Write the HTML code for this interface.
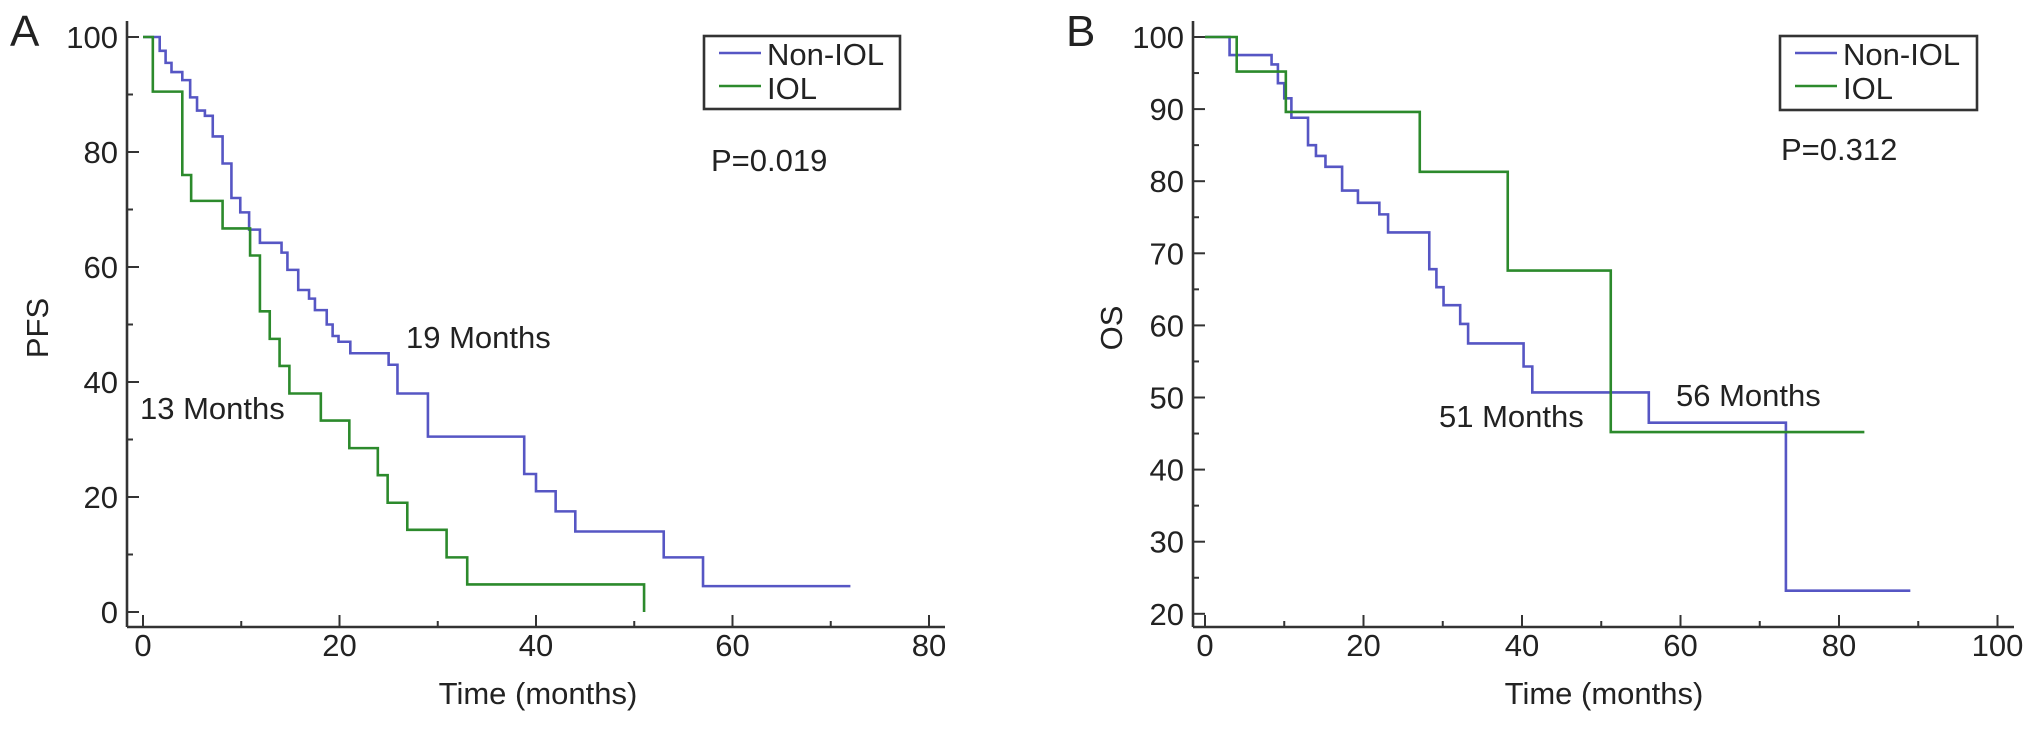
<!DOCTYPE html>
<html><head><meta charset="utf-8"><style>
html,body{margin:0;padding:0;background:#fff;}
svg text{font-family:"Liberation Sans",Arial,sans-serif;fill:#222;}
</style></head><body>
<svg id="chart" width="2032" height="724" viewBox="0 0 2032 724" xmlns="http://www.w3.org/2000/svg">
<g id="pa"></g>
<g id="pb"></g>
</svg>
<script>
// Panel A (PFS)
const aNonTimes = [1.7,2.3,2.9,4.0,4.8,5.5,6.3,7.1,8.1,9.0,9.9,10.8,11.9,14.1,14.7,15.8,16.9,17.5,18.7,19.3,19.9,21.1,25,25.9,29,38.8,40,42,44,53,57];
const aNonVals  = [97.6,95.5,93.9,92.5,89.5,87.2,86.3,82.7,78,72,69.5,66.5,64.2,62.5,59.5,56,54.5,52.5,50,48,47,45,43,38,30.5,24,21,17.5,14,9.5,4.5];
const aNonEnd = 72;
const aIolTimes = [1.0,4.0,4.9,8.1,10.9,11.9,12.9,13.9,14.9,18.1,21,23.9,24.9,26.9,30.9,33,51];
const aIolVals  = [90.5,76,71.5,66.7,62,52.3,47.5,42.8,38,33.3,28.5,23.8,19,14.3,9.5,4.8,0];
const aIolEnd = 51;
const aXTicks = [0,20,40,60,80];
const aYTicks = [0,20,40,60,80,100];
// Panel B (OS)
const bNonTimes = [3.1,8.4,9.2,10,10.9,13,14,15.2,17.3,19.3,22,23.1,28.3,29.2,30.1,32.2,33.2,40.2,41.3,56,73.3];
const bNonVals  = [97.5,96.2,93.6,91.5,88.8,85,83.5,82,78.7,77,75.4,72.9,67.8,65.3,62.8,60.2,57.5,54.3,50.7,46.5,23.2];
const bNonEnd = 89;
const bIolTimes = [4.0,10.2,27.1,38.2,51.2];
const bIolVals  = [95.2,89.6,81.3,67.6,45.2];
const bIolEnd = 83.2;
const bXTicks = [0,20,40,60,80,100];
const bYTicks = [20,30,40,50,60,70,80,90,100];

const NS='http://www.w3.org/2000/svg';
function mk(parent, tag, attrs, text){
  const e=document.createElementNS(NS,tag);
  for(const k in attrs) e.setAttribute(k,attrs[k]);
  if(text!==undefined) e.textContent=text;
  parent.appendChild(e); return e;
}
const BLUE='#5656c4', GREEN='#2c8a2c', AX='#333';

function panel(g, cfg){
  const {xs, ys, axX, axTop, axY, axRight, xTicks, yTicks, xMinorStep, yMinorStep, yMin, yMax, xMax} = cfg;
  let a=mk(g,'line',{x1:axX,y1:axTop,x2:axX,y2:axY,stroke:AX,'stroke-width':2.6});
   
  a=mk(g,'line',{x1:axX,y1:axY,x2:axRight,y2:axY,stroke:AX,'stroke-width':2.6});
   
  for(let v=yMin; v<=yMax; v+=yMinorStep){
    const major=yTicks.includes(v);
    const t=mk(g,'line',{x1:axX,y1:ys(v),x2:axX+(major?12:6),y2:ys(v),stroke:AX,'stroke-width':2});
     
  }
  yTicks.forEach(v=>{
    const t=mk(g,'text',{x:axX-9,y:ys(v)+11,'font-size':31,'text-anchor':'end'},String(v));
     
  });
  for(let v=0; v<=xMax; v+=xMinorStep){
    const major=xTicks.includes(v);
    const t=mk(g,'line',{x1:xs(v),y1:axY,x2:xs(v),y2:axY-(major?12:6),stroke:AX,'stroke-width':2});
     
  }
  xTicks.forEach(v=>{
    const t=mk(g,'text',{x:xs(v),y:656,'font-size':31,'text-anchor':'middle'},String(v));
     
  });
}
function steps(g, xs, ys, times, vals, end, color, name){
  let d='M'+xs(0)+','+ys(100); let cur=100;
  times.forEach((t,i)=>{ d+=' L'+xs(t)+','+ys(cur)+' L'+xs(t)+','+ys(vals[i]); cur=vals[i]; });
  d+=' L'+xs(end)+','+ys(cur);
  const p=mk(g,'path',{d:d,fill:'none',stroke:color,'stroke-width':2.6});
   
}
function txt(g,x,y,s,str,name,extra){
  const t=mk(g,'text',Object.assign({x:x,y:y,'font-size':s},extra||{}),str);
   
  return t;
}
function legend(g,x,y,w,h){
  const r=mk(g,'rect',{x:x,y:y,width:w,height:h,fill:'#fff',stroke:AX,'stroke-width':2.6});
   
  let l=mk(g,'line',{x1:x+15,y1:y+17,x2:x+57,y2:y+17,stroke:BLUE,'stroke-width':2.6});
   
  l=mk(g,'line',{x1:x+15,y1:y+50,x2:x+57,y2:y+50,stroke:GREEN,'stroke-width':2.6});
   
  txt(g,x+63,y+29,31,'Non-IOL','legend-entry-non-iol');
  txt(g,x+63,y+63,31,'IOL','legend-entry-iol');
}

// Panel A
const ga=document.getElementById('pa');
const xA=m=>143+m*9.825, yA=v=>37+(100-v)*5.75;
panel(ga,{xs:xA,ys:yA,axX:127,axTop:21,axY:627,axRight:945,xTicks:aXTicks,yTicks:aYTicks,xMinorStep:10,yMinorStep:10,yMin:0,yMax:100,xMax:80});
steps(ga,xA,yA,aNonTimes,aNonVals,aNonEnd,BLUE,'pfs-non-iol-curve');
steps(ga,xA,yA,aIolTimes,aIolVals,aIolEnd,GREEN,'pfs-iol-curve');
legend(ga,704,36,196,73);
txt(ga,711,171,31,'P=0.019','p-value-a');
txt(ga,406,348,31,'19 Months','median-label-non-iol-a');
txt(ga,140,419,31,'13 Months','median-label-iol-a');
txt(ga,10,46,44,'A','panel-label-a');
txt(ga,538,704,31,'Time (months)','x-axis-title-a',{'text-anchor':'middle'});
txt(ga,0,0,31,'PFS','y-axis-title-a',{'text-anchor':'middle',transform:'translate(48,328) rotate(-90)'});

// Panel B
const gb=document.getElementById('pb');
const xB=m=>1205+m*7.925, yB=v=>37+(100-v)*7.21;
panel(gb,{xs:xB,ys:yB,axX:1193,axTop:21,axY:627,axRight:2014,xTicks:bXTicks,yTicks:bYTicks,xMinorStep:10,yMinorStep:5,yMin:20,yMax:100,xMax:100});
steps(gb,xB,yB,bNonTimes,bNonVals,bNonEnd,BLUE,'os-non-iol-curve');
steps(gb,xB,yB,bIolTimes,bIolVals,bIolEnd,GREEN,'os-iol-curve');
legend(gb,1780,36,197,74);
txt(gb,1781,160,31,'P=0.312','p-value-b');
txt(gb,1439,427,31,'51 Months','median-label-non-iol-b');
txt(gb,1676,406,31,'56 Months','median-label-iol-b');
txt(gb,1066,46,44,'B','panel-label-b');
txt(gb,1604,704,31,'Time (months)','x-axis-title-b',{'text-anchor':'middle'});
txt(gb,0,0,31,'OS','y-axis-title-b',{'text-anchor':'middle',transform:'translate(1122,328) rotate(-90)'});
</script>
</body></html>
